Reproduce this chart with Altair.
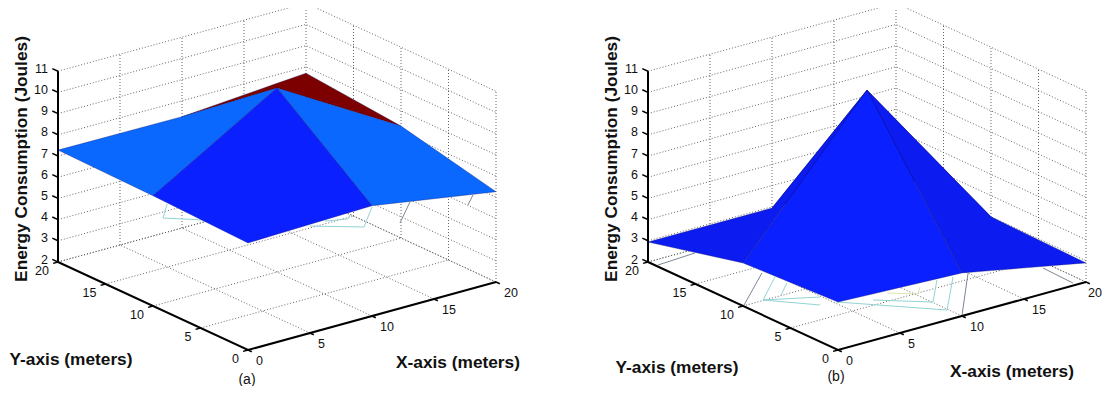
import altair as alt
import pandas as pd

GRID_M = [0, 10, 20]
GRID_LINES = [0, 5, 10, 15, 20]
Z_TICKS = [2, 3, 4, 5, 6, 7, 8, 9, 10, 11]

Z_A = [[7.05, 7.2, 6.26], [7.2, 10.68, 7.28], [7.28, 7.25, 7.7]]
Z_B = [[4.26, 4.03, 2.9], [4.03, 10.58, 3.0], [2.94, 2.94, 3.0]]

LIGHT = "#0a68ff"
DEEP = "#0a20ff"
RED = "#7d0000"
STRIP = "#0c1cf0"
# cell (x index, y index, colour), painted back to front
CELLS_A = [(1, 1, RED), (0, 1, LIGHT), (1, 0, LIGHT), (0, 0, DEEP)]
CELLS_B = [(1, 1, STRIP), (0, 1, STRIP), (1, 0, STRIP), (0, 0, DEEP)]

TEAL = "#93d3d3"
SLATE = "#7b8794"
YELLOW = "#dfe3b0"
CONTOURS_A = [
    (TEAL, [(11.87, 24.01), (10.13, 22.17), (11.94, 20.32)]),
    (TEAL, [(21.92, 15.56), (19.33, 13.02), (16.70, 15.27)]),
    (TEAL, [(18.01, 15.40), (19.39, 14.79), (19.93, 15.28)]),
    (SLATE, [(24.39, 14.79), (21.59, 12.18)]),
    (SLATE, [(28.35, 13.32), (27.00, 12.09)]),
]
CONTOURS_B = [
    (SLATE, [(4.57, 13.97), (0.16, 10.10)]),
    (TEAL, [(4.79, 12.89), (1.67, 10.07), (4.01, 7.13)]),
    (TEAL, [(1.67, 10.07), (4.88, 8.27)]),
    (TEAL, [(4.74, 11.56), (3.13, 10.08)]),
    (SLATE, [(3.37, 19.45), (0.18, 19.18)]),
    (TEAL, [(5.20, 6.89), (9.90, 1.44), (13.81, 5.92)]),
    (TEAL, [(7.24, 5.77), (10.06, 3.13), (12.67, 6.12)]),
    (SLATE, [(15.01, 5.90), (10.11, 0.14)]),
    (YELLOW, [(8.72, 6.22), (10.18, 4.86), (11.04, 5.78)]),
    (SLATE, [(19.35, 3.68), (19.23, 0.37)]),
]

Z_TITLE = "Energy Consumption (Joules)"
X_TITLE = "X-axis (meters)"
Y_TITLE = "Y-axis (meters)"

X_SCALE = alt.Scale(domain=[8, 1103], nice=False, zero=False)
Y_SCALE = alt.Scale(domain=[386, 8], nice=False, zero=False)
EX = alt.X("px:Q", scale=X_SCALE, axis=None)
EY = alt.Y("py:Q", scale=Y_SCALE, axis=None)


def project(x, y, z, ox):
    return (ox + 12.4 * x - 9.5 * y, 350 - 3.4 * x - 4.4 * y - (z - 2) * 21.2)


def polyline(points, color, width=1.0, dash=None, opacity=1.0):
    df = pd.DataFrame([{"px": p[0], "py": p[1], "i": i} for i, p in enumerate(points)])
    kw = dict(color=color, strokeWidth=width, opacity=opacity)
    if dash:
        kw["strokeDash"] = dash
    return alt.Chart(df).mark_line(**kw).encode(x=EX, y=EY, order=alt.Order("i:Q"))


def envelope(points):
    xs = sorted({p[0] for p in points})
    rows = []
    n = len(points)
    for xx in xs:
        ys = []
        for k in range(n):
            a, b = points[k], points[(k + 1) % n]
            lo, hi = min(a[0], b[0]), max(a[0], b[0])
            if lo <= xx <= hi and hi > lo:
                ys.append(a[1] + (b[1] - a[1]) * (xx - a[0]) / (b[0] - a[0]))
        rows.append({"px": xx, "py": max(ys), "py2": min(ys)})
    return pd.DataFrame(rows)


def text(s, x, y, size=12.5, bold=False, angle=0, align="center", color="#111111"):
    df = pd.DataFrame([{"px": x, "py": y, "t": s}])
    return alt.Chart(df).mark_text(
        font="Liberation Sans", fontSize=size, fontWeight="bold" if bold else "normal",
        angle=angle, align=align, baseline="middle", color=color,
    ).encode(x=EX, y=EY, text="t:N")


def panel(Z, cells, contours, ox, tag, tag_xy, ytitle_xy, xtitle_xy):
    L = []
    dots = dict(color="#555555", width=0.9, dash=[1, 2])
    for v in Z_TICKS:
        L.append(polyline([project(0, 20, v, ox), project(20, 20, v, ox), project(20, 0, v, ox)], **dots))
    for v in GRID_LINES[1:]:
        L.append(polyline([project(v, 20, 2, ox), project(v, 20, 11, ox)], **dots))
    for v in GRID_LINES[:-1]:
        L.append(polyline([project(20, v, 2, ox), project(20, v, 11, ox)], **dots))
    for v in GRID_LINES[1:]:
        L.append(polyline([project(v, 0, 2, ox), project(v, 20, 2, ox)], **dots))
        L.append(polyline([project(0, v, 2, ox), project(20, v, 2, ox)], **dots))
    for color, pts in contours:
        L.append(polyline([project(a, b, 2, ox) for a, b in pts], color, width=1.0))
    for ix, iy, color in cells:
        corners = [(ix, iy), (ix, iy + 1), (ix + 1, iy + 1), (ix + 1, iy)]
        poly = [project(GRID_M[a], GRID_M[b], Z[b][a], ox) for a, b in corners]
        L.append(alt.Chart(envelope(poly)).mark_area(color=color, orient="vertical", opacity=1)
                 .encode(x=EX, y=EY, y2="py2:Q"))
        L.append(polyline(poly + [poly[0]], "#10105a", width=0.6, opacity=0.55))
    axis = dict(color="#000000", width=2)
    L.append(polyline([project(0, 20, 2, ox), project(0, 20, 11, ox)], **axis))
    L.append(polyline([project(0, 20, 2, ox), project(0, 0, 2, ox), project(20, 0, 2, ox)], **axis))
    for v in Z_TICKS:
        L.append(polyline([project(0, 20, v, ox), project(0, 20.6, v, ox)], "#000000", width=1.5))
        px, py = project(0, 20, v, ox)
        L.append(text(str(v), px - 10, py - 2.5, align="right"))
    for v in GRID_LINES:
        L.append(polyline([project(0, v, 2, ox), project(-0.4, v, 2, ox)], "#000000", width=1.5))
        px, py = project(0, v, 2, ox)
        L.append(text(str(v), px - 9, py + 8.5, align="right"))
        L.append(polyline([project(v, 0, 2, ox), project(v, -0.4, 2, ox)], "#000000", width=1.5))
        px, py = project(v, 0, 2, ox)
        # the page leaves 1103 px of width, so the last label stays inside it
        L.append(text(str(v), min(px + 8, 1088), py + 10.5, align="left"))
    L.append(text(Z_TITLE, ox - 226.5, 159, size=17.3, bold=True, angle=270))
    L.append(text(Y_TITLE, ytitle_xy[0], ytitle_xy[1], size=17.3, bold=True))
    L.append(text(X_TITLE, xtitle_xy[0], xtitle_xy[1], size=17.3, bold=True))
    L.append(text(tag, tag_xy[0], tag_xy[1], size=14))
    return L


layers = panel(Z_A, CELLS_A, CONTOURS_A, 248, "(a)", (247, 380), (71, 360), (458, 363))
layers += panel(Z_B, CELLS_B, CONTOURS_B, 838, "(b)", (836, 377), (677, 368), (1012, 372))

chart = alt.layer(*layers).properties(
    width=1095, height=378, padding=0, background="white",
    autosize=alt.AutoSizeParams(type="none"),
).configure_view(strokeWidth=0)

chart.save("out.html", embed_options={"renderer": "svg", "actions": False})
